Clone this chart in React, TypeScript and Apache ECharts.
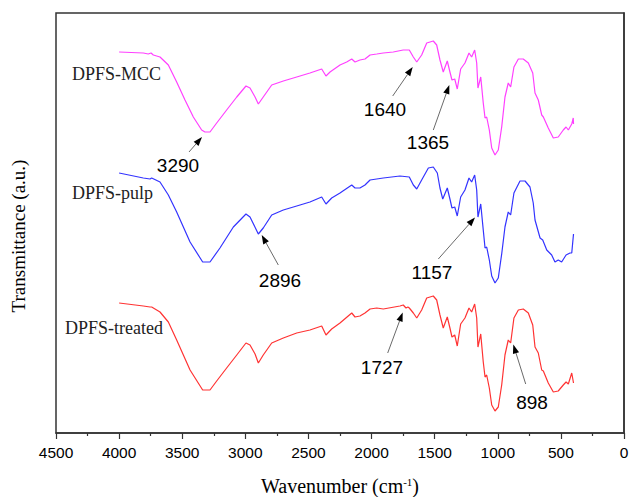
import { useEffect, useRef } from 'react';
import * as echarts from 'echarts';

// Wavenumber (cm^-1), transmittance (arbitrary units, offset stacking)
const mccData: number[][] = [
  [4000, 381], [3808, 380], [3769, 379], [3747, 380], [3729, 378], [3676, 376], [3610, 368], [3544, 351],
  [3478, 333], [3412, 316], [3346, 303], [3320, 301], [3280, 301], [3227, 310], [3148, 323], [3068, 336],
  [2995, 347], [2963, 345], [2923, 336], [2897, 329], [2858, 336], [2791, 348], [2699, 352], [2593, 356],
  [2488, 360], [2395, 364], [2361, 357], [2329, 361], [2250, 368], [2197, 371], [2157, 374], [2131, 371],
  [2092, 373], [2052, 374], [2012, 378], [1959, 379], [1907, 380], [1828, 381], [1749, 383], [1701, 383],
  [1669, 376], [1642, 371], [1603, 378], [1563, 390], [1511, 392], [1484, 388], [1458, 373], [1432, 361],
  [1400, 372], [1379, 361], [1363, 353], [1341, 354], [1321, 344], [1294, 364], [1260, 370], [1228, 380],
  [1207, 376], [1183, 383], [1167, 370], [1157, 345], [1135, 356], [1115, 330], [1101, 315], [1088, 316],
  [1067, 303], [1048, 285], [1022, 278], [996, 283], [969, 306], [943, 336], [917, 350], [898, 346],
  [872, 366], [837, 374], [798, 374], [758, 370], [723, 360], [705, 340], [679, 333], [652, 318],
  [639, 316], [600, 305], [560, 295], [521, 296], [481, 303], [459, 306], [441, 303], [414, 309],
  [402, 315], [400, 309],
];

const pulpData: number[][] = [
  [4000, 260], [3808, 255], [3755, 254], [3742, 255], [3676, 251], [3610, 238], [3544, 221], [3438, 191],
  [3338, 171], [3280, 171], [3201, 185], [3095, 206], [2995, 219], [2963, 216], [2897, 199], [2858, 205],
  [2791, 218], [2699, 223], [2593, 227], [2488, 231], [2395, 236], [2361, 229], [2316, 235], [2250, 240],
  [2157, 248], [2131, 245], [2092, 245], [2052, 248], [2012, 253], [1907, 255], [1775, 257], [1701, 256],
  [1669, 248], [1642, 244], [1603, 253], [1550, 265], [1511, 266], [1479, 260], [1458, 245], [1436, 234],
  [1400, 245], [1379, 234], [1363, 225], [1341, 226], [1321, 217], [1294, 236], [1260, 243], [1228, 255],
  [1207, 251], [1183, 258], [1167, 243], [1157, 216], [1135, 229], [1115, 203], [1101, 185], [1088, 186],
  [1067, 173], [1048, 157], [1022, 150], [996, 155], [969, 179], [943, 206], [917, 221], [898, 218],
  [872, 240], [824, 252], [784, 252], [745, 246], [719, 230], [705, 213], [665, 195], [644, 193],
  [612, 183], [573, 178], [547, 171], [521, 173], [494, 171], [459, 178], [428, 180], [414, 180],
  [400, 199],
];

const treatedData: number[][] = [
  [4000, 130], [3808, 127], [3755, 126], [3742, 126], [3676, 121], [3610, 111], [3544, 93], [3438, 63],
  [3338, 43], [3280, 43], [3227, 52], [3148, 65], [3068, 78], [2995, 90], [2963, 88], [2923, 79],
  [2897, 70], [2858, 78], [2791, 90], [2699, 95], [2593, 100], [2488, 103], [2395, 107], [2361, 98],
  [2316, 104], [2250, 110], [2157, 120], [2131, 116], [2092, 117], [2052, 120], [2012, 124], [1959, 125],
  [1907, 124], [1775, 127], [1749, 128], [1727, 125], [1712, 126], [1701, 125], [1669, 120], [1642, 115],
  [1603, 123], [1563, 135], [1511, 137], [1484, 133], [1458, 118], [1432, 105], [1400, 116], [1379, 105],
  [1363, 96], [1341, 98], [1321, 87], [1294, 109], [1260, 115], [1228, 125], [1207, 121], [1183, 129],
  [1167, 115], [1157, 86], [1135, 99], [1115, 71], [1101, 56], [1088, 58], [1067, 45], [1048, 28],
  [1022, 22], [996, 26], [969, 48], [943, 78], [917, 93], [898, 90], [872, 115], [837, 123],
  [798, 124], [758, 120], [723, 108], [705, 86], [679, 80], [652, 63], [639, 62], [600, 50],
  [560, 41], [521, 42], [481, 48], [459, 51], [441, 49], [414, 60], [400, 50],
];

const seriesNames = ['DPFS-MCC', 'DPFS-pulp', 'DPFS-treated'];
const peakLabels = ['3290', '1640', '1365', '2896', '1157', '1727', '898'];

const SERIF = '"Liberation Serif", "Times New Roman", serif';
const SANS = '"Liberation Sans", Arial, sans-serif';

// annotation layout (pixels): label centre, arrow tail, arrow head
const annoLayout = [
  { lx: 178, ly: 165, t: [189, 152], h: [202, 137] },
  { lx: 385, ly: 109, t: [392.7, 96], h: [412.7, 67] },
  { lx: 428, ly: 142, t: [433.3, 130], h: [449.3, 85] },
  { lx: 280, ly: 280, t: [278.3, 265], h: [261.7, 235] },
  { lx: 432, ly: 272, t: [438.3, 259], h: [475, 217.5] },
  { lx: 382, ly: 367, t: [387.7, 353], h: [402.7, 312.5] },
  { lx: 532, ly: 402, t: [525.7, 384], h: [513.3, 344.5] },
];

function arrow(t: number[], h: number[]) {
  const dx = h[0] - t[0];
  const dy = h[1] - t[1];
  const len = Math.sqrt(dx * dx + dy * dy);
  const ux = dx / len;
  const uy = dy / len;
  const L = 9;
  const W = 3.2;
  const bx = h[0] - ux * L;
  const by = h[1] - uy * L;
  return [
    {
      type: 'line',
      shape: { x1: t[0], y1: t[1], x2: bx, y2: by },
      style: { stroke: '#6a6a6a', lineWidth: 1 },
      silent: true,
    },
    {
      type: 'polygon',
      shape: {
        points: [
          [h[0], h[1]],
          [bx - uy * W, by + ux * W],
          [bx + uy * W, by - ux * W],
        ],
      },
      style: { fill: '#000' },
      silent: true,
    },
  ];
}

export default function App() {
  const ref = useRef<HTMLDivElement>(null);
  useEffect(() => {
    const chart = echarts.init(ref.current!, null, { renderer: 'svg' });
    const graphics: any[] = [];
    // curve names
    const nameLayout = [
      { x: 72, y: 74 },
      { x: 72, y: 193 },
      { x: 65, y: 328 },
    ];
    seriesNames.forEach((n, i) => {
      graphics.push({
        type: 'text',
        x: nameLayout[i].x,
        y: nameLayout[i].y,
        style: { text: n, font: `18px ${SERIF}`, fill: '#222', textAlign: 'left', textVerticalAlign: 'middle' },
        silent: true,
      });
    });
    peakLabels.forEach((p, i) => {
      const a = annoLayout[i];
      graphics.push({
        type: 'text',
        x: a.lx,
        y: a.ly,
        style: { text: p, font: `19px ${SANS}`, fill: '#000', textAlign: 'center', textVerticalAlign: 'middle' },
        silent: true,
      });
      graphics.push(...arrow(a.t, a.h));
    });
    // axis titles
    graphics.push({
      type: 'text',
      x: 18,
      y: 236,
      rotation: Math.PI / 2,
      style: {
        text: 'Transmittance (a.u.)',
        font: `19px ${SERIF}`,
        fill: '#000',
        textAlign: 'center',
        textVerticalAlign: 'middle',
      },
      silent: true,
    });
    graphics.push({
      type: 'text',
      x: 340,
      y: 486,
      style: {
        text: '{a|Wavenumber (cm}{s|-1}{a|)}',
        fill: '#000',
        textAlign: 'center',
        textVerticalAlign: 'middle',
        rich: {
          a: { fontFamily: SERIF, fontSize: 20, fill: '#000', verticalAlign: 'bottom', lineHeight: 20 },
          s: { fontFamily: SERIF, fontSize: 11, fill: '#000', verticalAlign: 'top', lineHeight: 20 },
        },
      },
      silent: true,
    });

    chart.setOption({
      animation: false,
      backgroundColor: '#fff',
      grid: {
        left: 56,
        right: 5,
        top: 13,
        bottom: 64,
        show: true,
        borderColor: '#333',
        borderWidth: 1.5,
        containLabel: false,
        outerBoundsMode: 'none',
      },
      xAxis: {
        type: 'value',
        inverse: true,
        min: 0,
        max: 4500,
        interval: 500,
        axisLine: { show: true, onZero: false, lineStyle: { color: '#333', width: 1.5 } },
        axisTick: { show: true, inside: false, length: 6, lineStyle: { color: '#333', width: 1.2 } },
        minorTick: { show: true, splitNumber: 2, length: 3, lineStyle: { color: '#333', width: 1.2 } },
        splitLine: { show: false },
        axisLabel: { color: '#000', fontFamily: SANS, fontSize: 15.5, margin: 11, formatter: (v: number) => String(v) },
      },
      yAxis: {
        type: 'value',
        min: 0,
        max: 420,
        axisLine: { show: true, lineStyle: { color: '#333', width: 1.5 } },
        axisTick: { show: false },
        axisLabel: { show: false },
        splitLine: { show: false },
      },
      series: [
        { name: seriesNames[0], type: 'line', data: mccData, showSymbol: false, lineStyle: { color: '#ff40ff', width: 1.2 }, itemStyle: { color: '#ff40ff' } },
        { name: seriesNames[1], type: 'line', data: pulpData, showSymbol: false, lineStyle: { color: '#3333ff', width: 1.2 }, itemStyle: { color: '#3333ff' } },
        { name: seriesNames[2], type: 'line', data: treatedData, showSymbol: false, lineStyle: { color: '#ff3333', width: 1.2 }, itemStyle: { color: '#ff3333' } },
      ],
      graphic: graphics,
    });
    return () => chart.dispose();
  }, []);
  return <div ref={ref} style={{ position: 'absolute', left: 0, top: 0, width: 629, height: 497 }} />;
}
